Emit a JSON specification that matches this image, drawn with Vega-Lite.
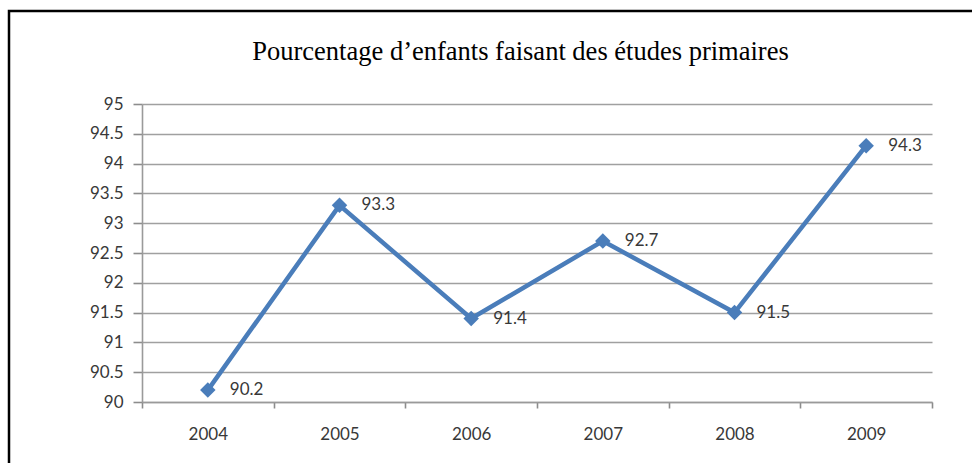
{
  "$schema": "https://vega.github.io/schema/vega-lite/v6.json",
  "width": 973,
  "height": 462,
  "autosize": {"type": "none"},
  "padding": {"left": 9, "top": 11, "right": -10, "bottom": -10},
  "background": "white",
  "config": {
    "view": {"stroke": "#000000", "strokeWidth": 2.5, "fill": "white"},
    "axis": {
      "labelFont": "Lato",
      "labelFontSize": 17,
      "labelColor": "#383838",
      "domainColor": "#9a9a9a",
      "domainWidth": 1.6,
      "tickColor": "#8c8c8c",
      "tickWidth": 1.6,
      "gridColor": "#a0a0a0",
      "gridWidth": 1.6,
      "title": null
    }
  },
  "title": {
    "text": "Pourcentage d’enfants faisant des études primaires",
    "font": "Liberation Serif",
    "fontSize": 26.5,
    "fontWeight": "normal",
    "color": "#000000",
    "anchor": "middle",
    "frame": "group",
    "baseline": "alphabetic",
    "offset": -75,
    "dx": 25
  },
  "data": {
    "values": [
      {"year": "2004", "pct": 90.2},
      {"year": "2005", "pct": 93.3},
      {"year": "2006", "pct": 91.4},
      {"year": "2007", "pct": 92.7},
      {"year": "2008", "pct": 91.5},
      {"year": "2009", "pct": 94.3}
    ]
  },
  "encoding": {
    "x": {
      "field": "year",
      "type": "ordinal",
      "scale": {"type": "band", "range": [133, 923], "paddingInner": 0, "paddingOuter": 0},
      "axis": {
        "offset": -71,
        "labelAngle": 0,
        "tickBand": "extent",
        "tickSize": 6,
        "labelPadding": 18,
        "grid": false
      }
    },
    "y": {
      "field": "pct",
      "type": "quantitative",
      "scale": {"domain": [90, 95], "range": [391, 93], "zero": false, "nice": false},
      "axis": {
        "offset": -133,
        "values": [90, 90.5, 91, 91.5, 92, 92.5, 93, 93.5, 94, 94.5, 95],
        "format": "~g",
        "tickSize": 9,
        "labelPadding": 10,
        "grid": true
      }
    }
  },
  "layer": [
    {"mark": {"type": "line", "color": "#4a7dba", "strokeWidth": 4.5}},
    {"mark": {"type": "point", "shape": "diamond", "filled": true, "size": 240, "color": "#4a7dba", "opacity": 1}},
    {
      "mark": {"type": "text", "align": "left", "baseline": "middle", "dx": 22, "font": "Lato", "fontSize": 17, "color": "#383838"},
      "encoding": {"text": {"field": "pct", "type": "quantitative", "format": ".1f"}}
    }
  ]
}
